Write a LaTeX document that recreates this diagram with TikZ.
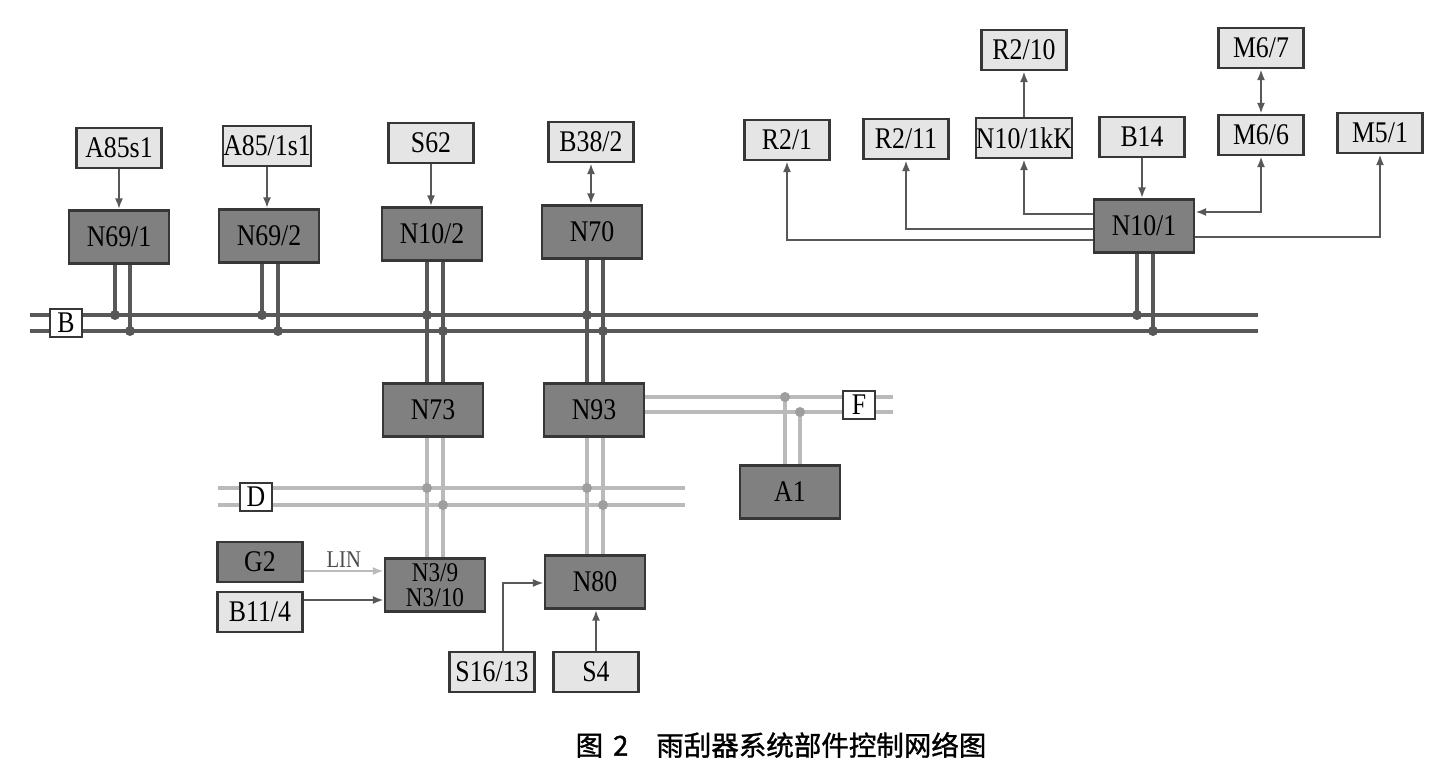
\documentclass[tikz,border=0pt]{standalone}
\usepackage{fontspec}
\setmainfont{Liberation Serif}[FakeStretch=0.86]
\newfontfamily\cjk{Noto Sans CJK SC}[FakeBold=1.2]
\usetikzlibrary{arrows.meta}
\definecolor{boxdark}{RGB}{128,128,128}
\definecolor{boxlight}{RGB}{229,229,229}
\definecolor{edge}{RGB}{55,55,55}
\definecolor{wire}{RGB}{88,88,88}
\definecolor{wirelight}{RGB}{186,186,186}
\tikzset{
  ecu/.style={draw=edge, line width=2.2pt, fill=boxdark, minimum width=100pt, minimum height=53pt, inner sep=0pt, font=\fontsize{30}{30}\selectfont},
  part/.style={draw=edge, line width=2.2pt, fill=boxlight, minimum width=85pt, minimum height=40pt, inner sep=0pt, font=\fontsize{30}{30}\selectfont},
  darkpart/.style={part, fill=boxdark},
  tag/.style={draw=edge, line width=1.8pt, fill=white, minimum width=32pt, minimum height=28pt, inner sep=0pt, font=\fontsize{30}{30}\selectfont},
  bus/.style={draw=wire, line width=3.4pt},
  buslight/.style={draw=wirelight, line width=3.4pt},
  sig/.style={draw=wire, line width=2.8pt, -{Latex[length=11pt,width=8pt]}},
  sigboth/.style={sig, {Latex[length=11pt,width=8pt]}-{Latex[length=11pt,width=8pt]}},
  dot/.style={circle, fill=wire, inner sep=0pt, minimum size=10pt},
  dotlight/.style={circle, fill=wirelight!85!black, inner sep=0pt, minimum size=10pt}
}
\begin{document}
\begin{tikzpicture}[x=1pt, y=-1pt]
        \useasboundingbox[fill=white] (0,0) rectangle (1435,763);

        \node[part] at ( 119,148) (a85)   {A85s1};
        \node[part] at ( 267,146) (a851)  {A85/1s1};
        \node[part] at ( 431,143) (s62)   {S62};
        \node[part] at ( 591,142) (b382)  {B38/2};
        \node[ecu]  at ( 119,237) (n691)  {N69/1};
        \node[ecu]  at ( 269,236) (n692)  {N69/2};
        \node[ecu]  at ( 432,234) (n102)  {N10/2};
        \node[ecu]  at ( 592,232) (n70)   {N70};

        \node[part] at (1024, 50) (r210)  {R2/10};
        \node[part] at (1261, 48) (m67)   {M6/7};
        \node[part] at ( 787,140) (r21)   {R2/1};
        \node[part] at ( 906,139) (r211)  {R2/11};
        \node[part] at (1024,138) (n10kk) {N10/1kK};
        \node[part] at (1142,137) (b14)   {B14};
        \node[part] at (1261,135) (m66)   {M6/6};
        \node[part] at (1380,133) (m51)   {M5/1};
        \node[ecu]  at (1144,226) (n101)  {N10/1};

        \node[ecu]  at ( 433,410) (n73)   {N73};
        \node[ecu]  at ( 594,410) (n93)   {N93};
        \node[ecu]  at ( 790,492) (a1)    {A1};

        \node[darkpart] at (260,562) (g2)   {G2};
        \node[part]     at (260,612) (b114) {B11/4};
        \node[ecu, font=\fontsize{27}{25}\selectfont, align=center] at (435,585) (n39) {N3/9\\N3/10};
        \node[ecu]  at ( 595,582) (n80)   {N80};
        \node[part] at ( 492,672) (s1613) {S16/13};
        \node[part] at ( 596,672) (s4)    {S4};

        % buses
        \coordinate (bl1) at (30,315);   \coordinate (br1) at (1258,315);
        \coordinate (bl2) at (30,331);   \coordinate (br2) at (1258,331);
        \coordinate (dl1) at (218,488);  \coordinate (dr1) at (685,488);
        \coordinate (dl2) at (218,505);  \coordinate (dr2) at (685,505);
        \coordinate (fr1) at (893,397);  \coordinate (fr2) at (893,412);
        \draw[bus] (bl1) -- (br1);
        \draw[bus] (bl2) -- (br2);
        \draw[buslight] (dl1) -- (dr1);
        \draw[buslight] (dl2) -- (dr2);
        \draw[buslight] (n93.east |- fr1) -- (fr1);
        \draw[buslight] (n93.east |- fr2) -- (fr2);

        \draw[bus] (115,0 |- n691.south) -- (115,315) node[dot] {};
        \draw[bus] (130,0 |- n691.south) -- (130,331) node[dot] {};
        \draw[bus] (262,0 |- n692.south) -- (262,315) node[dot] {};
        \draw[bus] (278,0 |- n692.south) -- (278,331) node[dot] {};
        \draw[bus] (427,0 |- n102.south) -- (427,0 |- n73.north);
        \draw[bus] (443,0 |- n102.south) -- (443,0 |- n73.north);
        \draw[bus] (587,0 |- n70.south)  -- (587,0 |- n93.north);
        \draw[bus] (603,0 |- n70.south)  -- (603,0 |- n93.north);
        \draw[bus] (1137,0 |- n101.south) -- (1137,315) node[dot] {};
        \draw[bus] (1153,0 |- n101.south) -- (1153,331) node[dot] {};
        \node[dot] at (427,315) {};
        \node[dot] at (443,331) {};
        \node[dot] at (587,315) {};
        \node[dot] at (603,331) {};

        \draw[buslight] (427,0 |- n73.south) -- (427,0 |- n39.north);
        \draw[buslight] (443,0 |- n73.south) -- (443,0 |- n39.north);
        \draw[buslight] (587,0 |- n93.south) -- (587,0 |- n80.north);
        \draw[buslight] (603,0 |- n93.south) -- (603,0 |- n80.north);
        \node[dotlight] at (427,488) {};
        \node[dotlight] at (443,505) {};
        \node[dotlight] at (587,488) {};
        \node[dotlight] at (603,505) {};
        \draw[buslight] (785,0 |- a1.north) -- (785,397) node[dotlight] {};
        \draw[buslight] (800,0 |- a1.north) -- (800,412) node[dotlight] {};

        \node[tag] at (66,323)  (busb) {B};
        \node[tag] at (256,497) (busd) {D};
        \node[tag] at (859,405) (busf) {F};

        % signals
        \draw[sig] (a85) -- (a85 |- n691.north);
        \draw[sig] (a851) -- (a851 |- n692.north);
        \draw[sig] (s62) -- (s62 |- n102.north);
        \draw[sigboth] (b382) -- (b382 |- n70.north);
        \draw[sig] (n10kk) -- (r210);
        \draw[sigboth] (m66) -- (m67);
        \draw[sig] (b14) -- (b14 |- n101.north);
        \draw[sig] (n101.west |- 0,240) -| (r21);
        \draw[sig] (n101.west |- 0,229) -| (r211);
        \draw[sig] (n101.west |- 0,214) -| (n10kk);
        \draw[sigboth] (n101.east |- 0,212) -| (m66);
        \draw[sig] (n101.east |- 0,237) -| (m51);

        \draw[sig, draw=wirelight, -{Latex[length=11pt,width=8pt]}] (g2.east |- 0,571) -- node[above, font=\fontsize{24}{24}\selectfont, text=black!70, yshift=-1pt] {LIN} (n39.west |- 0,571);
        \draw[sig] (b114.east |- 0,600) -- (n39.west |- 0,600);
        \draw[sig] (503,0 |- s1613.north) |- (n80.west |- 0,583);
        \draw[sig] (s4) -- (s4 |- n80.south);

        \node[font=\cjk\fontsize{27.5}{28}\selectfont] at (781,745) (cap) {图\hspace{10pt}2\hspace{28pt}雨刮器系统部件控制网络图};
      \end{tikzpicture}
\end{document}
